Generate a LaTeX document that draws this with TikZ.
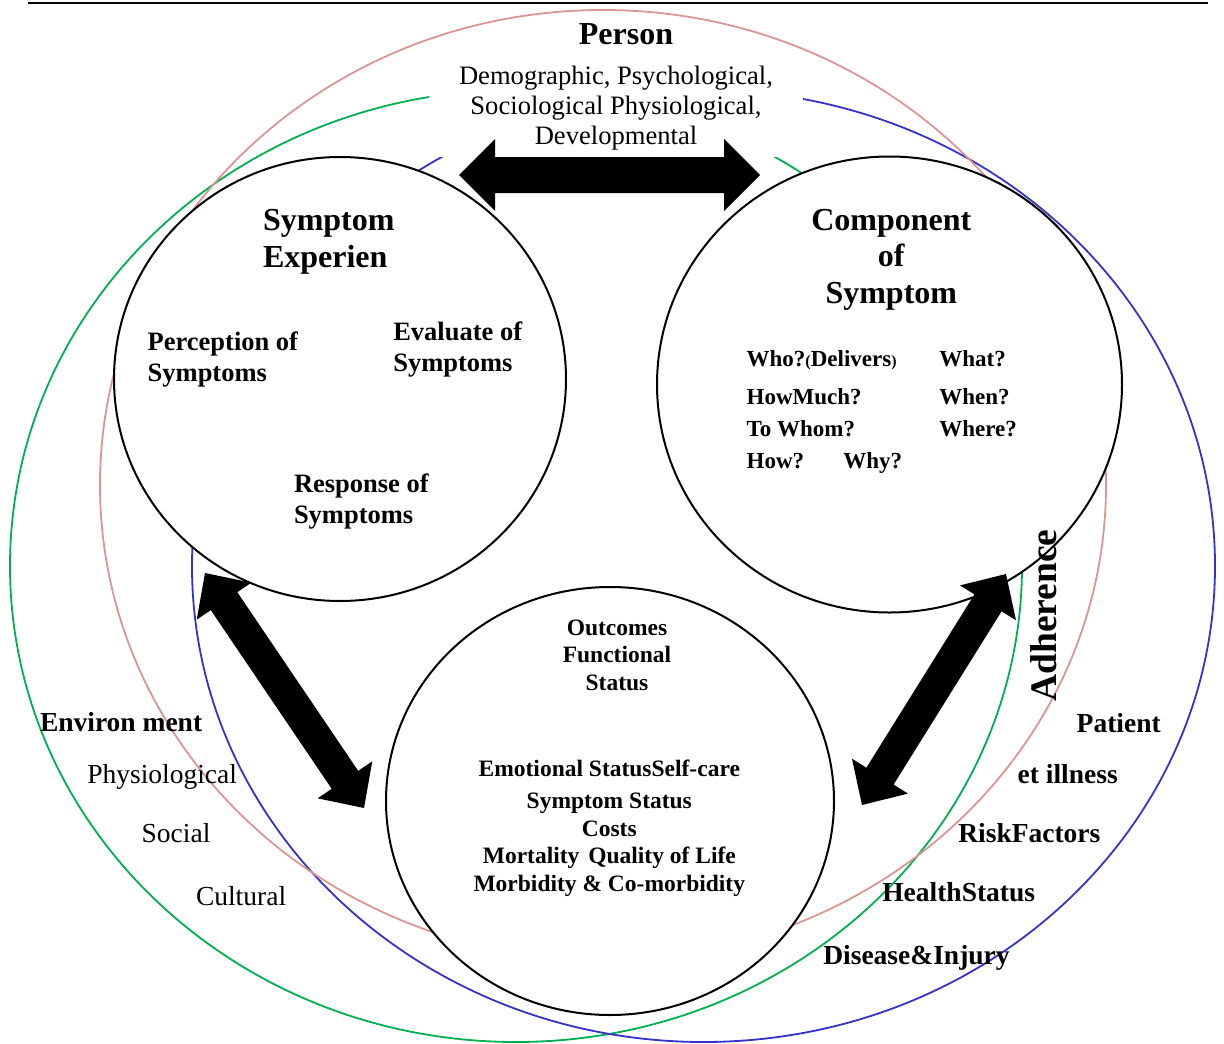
\documentclass[tikz,border=0pt]{standalone}
\usepackage{fontspec}
\setmainfont{Liberation Serif}
\usetikzlibrary{shapes.geometric,calc}
\definecolor{ringpink}{RGB}{217,150,148}
\definecolor{ringgreen}{RGB}{0,176,80}
\definecolor{ringblue}{RGB}{51,51,204}
\newcommand\fs[2]{\fontsize{#1}{#2}\selectfont}
\newcommand\fatarrow[5]{%
  \coordinate (#1-h) at ($(#1)!#3!(#2)$);
  \coordinate (#2-h) at ($(#2)!#3!(#1)$);
  \fill (#1) -- ($(#1-h)!#4!90:(#2)$) -- ($(#1-h)!#5!90:(#2)$)
    -- ($(#2-h)!#5!-90:(#1)$) -- ($(#2-h)!#4!-90:(#1)$) -- (#2)
    -- ($(#2-h)!#4!90:(#1)$) -- ($(#2-h)!#5!90:(#1)$)
    -- ($(#1-h)!#5!-90:(#2)$) -- ($(#1-h)!#4!-90:(#2)$) -- cycle;}
\begin{document}
\begin{tikzpicture}[x=1pt,y=-1pt,
  ring/.style={line width=1.8pt},
  circ/.style={ellipse, draw, line width=2pt, fill=white, inner sep=0pt, outer sep=0pt},
  txt/.style={inner sep=0pt, outer sep=0pt, align=left},
  hd/.style={txt, font=\bfseries\fs{32}{36.5}},
  sb/.style={txt, font=\bfseries\fs{26.5}{31}},
  qq/.style={txt, font=\bfseries\fs{23}{27}, anchor=base west},
  oc/.style={txt, align=center, font=\bfseries\fs{23.5}{27.6}},
  envr/.style={txt, font=\fs{27.5}{30}, anchor=base west},
  envb/.style={txt, font=\bfseries\fs{27.5}{30}, anchor=base west},
]
\useasboundingbox (0,0) rectangle (1224,1044);
% top rule
\coordinate (ruleL) at (28,3);
\coordinate (ruleR) at (1208,3);
\draw[line width=2.5pt] (ruleL) -- (ruleR);
% outer rings
\draw[ring, ringgreen] (516,566) ellipse [x radius=506pt, y radius=476pt];
\draw[ring, ringblue] (703.5,566) ellipse [x radius=511.5pt, y radius=476pt];
\node[txt, align=center, fill=white, inner xsep=30.5pt, inner ysep=6.5pt, font=\fs{26.6}{30}]
  (persondims) at (616,108) {Demographic, Psychological,\\Sociological Physiological,\\Developmental};
\draw[ring, ringpink] (603,485) ellipse [x radius=503pt, y radius=475pt];
% main circles
\node[circ, minimum width=452pt, minimum height=444pt] (exper) at (340,379) {};
\node[circ, minimum width=465pt, minimum height=456pt] (comp) at (889.5,384.5) {};
\node[circ, minimum width=448pt, minimum height=428pt] (outc) at (610,801) {};
% arrows
\coordinate (tl) at (459,175);
\coordinate (tr) at (760,175);
\fatarrow{tl}{tr}{36pt}{36pt}{18pt}
\coordinate (la) at (205,573);
\coordinate (lb) at (364,808);
\fatarrow{la}{lb}{34pt}{33pt}{16pt}
\coordinate (ra) at (1006,574);
\coordinate (rb) at (862,805);
\fatarrow{ra}{rb}{34pt}{33pt}{16pt}
% person
\node[txt, font=\bfseries\fs{32}{36}, anchor=base] (person) at (626,44) {Person};
% symptom experience
\node[hd, anchor=west] (sympexp) at (263,242) {Symptom\\Experien};
\node[sb, anchor=west] (percep) at (147.7,360) {Perception of\\Symptoms};
\node[sb, anchor=west] (evalu) at (393.3,350) {Evaluate of\\Symptoms};
\node[sb, anchor=west] (resp) at (294,502) {Response of\\Symptoms};
% component of symptom
\node[hd, align=center] (compsym) at (891.3,259.5) {Component\\of\\Symptom};
\node[qq] (who) at (746.7,366.7) {Who?{\fs{16}{16}(}Delivers{\fs{16}{16})}};
\node[qq] (what) at (939.3,366.7) {What?};
\node[qq] (howmuch) at (746.7,404) {HowMuch?};
\node[qq] (when) at (939.3,404) {When?};
\node[qq] (towhom) at (746.7,436.7) {To Whom?};
\node[qq] (where) at (939.3,436.7) {Where?};
\node[qq] (how) at (746.7,468.3) {How?};
\node[qq] (why) at (843.3,468.3) {Why?};
% outcomes
\node[oc] (outtitle) at (617,655) {Outcomes\\Functional\\Status};
\node[oc] (outlist) at (609.3,828) {Emotional StatusSelf-care\\[5pt]Symptom Status\\Costs\\Mortality\hspace{3pt} Quality of Life\\Morbidity \& Co-morbidity};
% environment
\node[envb] (envt) at (40,731.7) {Environ ment};
\node[envr] (physio) at (87.3,783.3) {Physiological};
\node[envr] (social) at (141.7,842.7) {Social};
\node[envr] (cult) at (196,905) {Cultural};
% adherence / patient
\node[txt, font=\bfseries\fs{37.5}{40}, rotate=90, anchor=base west] (adh) at (1056.7,701.7) {Adherence};
\node[envb] (patient) at (1076.7,732.3) {Patient};
\node[envb] (illness) at (1017.7,783.3) {et illness};
\node[envb] (risk) at (958.3,842.7) {RiskFactors};
\node[envb] (health) at (882.3,901.7) {HealthStatus};
\node[envb] (disease) at (823.3,964) {Disease\&Injury};
\end{tikzpicture}
\end{document}
